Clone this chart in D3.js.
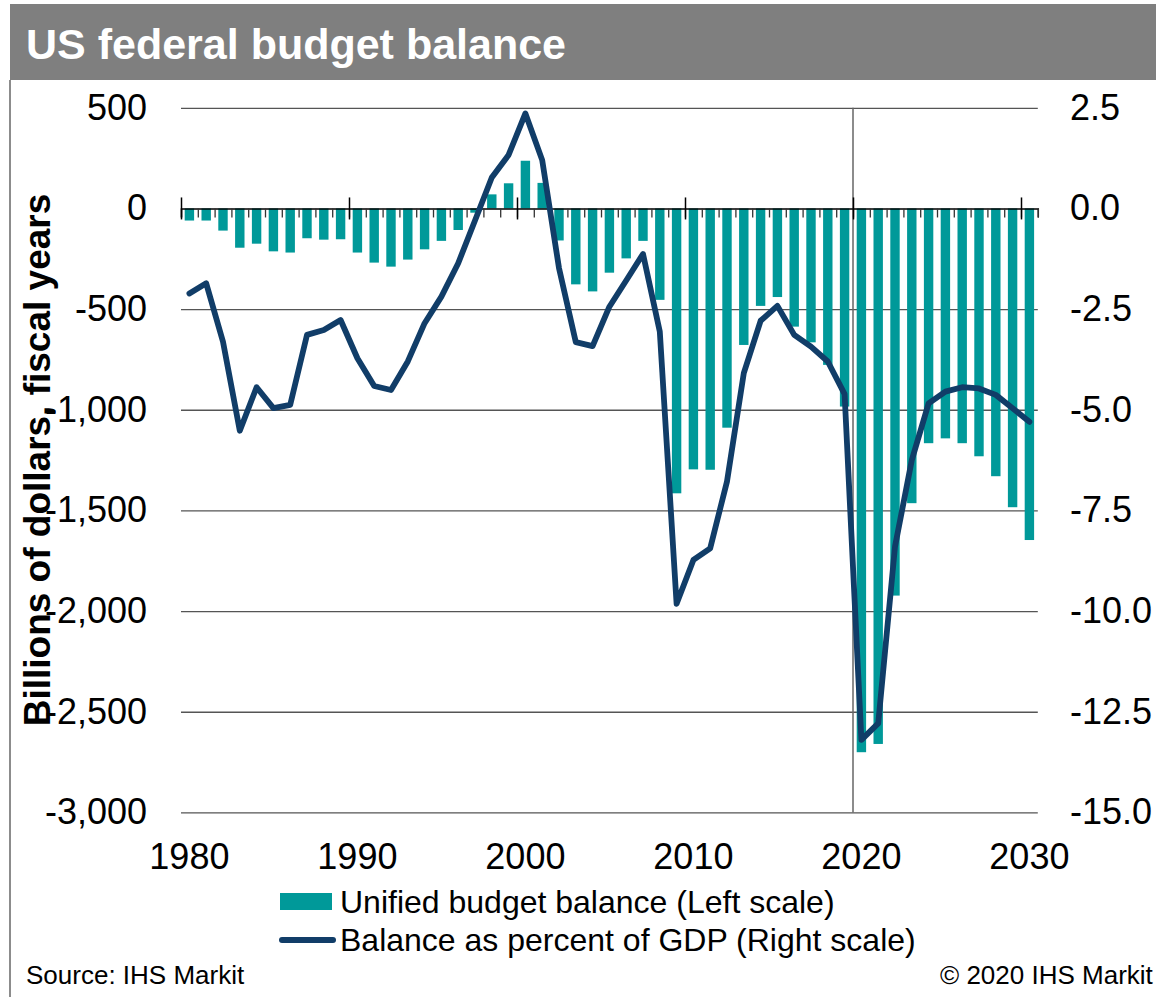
<!DOCTYPE html>
<html>
<head>
<meta charset="utf-8">
<script src="https://cdn.jsdelivr.net/npm/d3@7/dist/d3.min.js"></script>
<style>
  html, body { margin: 0; padding: 0; background: #fff; }
  svg { display: block; font-family: "Liberation Sans", Arial, sans-serif; }
</style>
</head>
<body>
<script>
// Fiscal years 1980-2030
const years = d3.range(1980, 2031);

// Unified budget balance, billions of dollars (left scale)
const budgetBalance = [
  -60, -60, -110, -195, -175, -213, -219, -148, -155, -153,
  -219, -269, -289, -254, -203, -161, -107, -21, 70, 125,
  237, 127, -159, -377, -412, -319, -248, -161, -454, -1415,
  -1296, -1298, -1089, -678, -484, -440, -587, -665, -777, -984,
  -2701, -2660, -1923, -1464, -1166, -1142, -1166, -1231, -1330, -1484,
  -1647
];

// Balance as percent of GDP (right scale)
const pctOfGdp = [
  -2.11, -1.86, -3.31, -5.52, -4.44, -4.96, -4.88, -3.14, -3.02, -2.77,
  -3.72, -4.41, -4.51, -3.80, -2.85, -2.19, -1.36, -0.30, 0.77, 1.33,
  2.36, 1.20, -1.48, -3.32, -3.42, -2.44, -1.79, -1.13, -3.06, -9.82,
  -8.73, -8.44, -6.78, -4.09, -2.79, -2.42, -3.14, -3.43, -3.80, -4.61,
  -13.20, -12.79, -8.40, -6.25, -4.84, -4.55, -4.44, -4.47, -4.63, -4.96,
  -5.30
];

const leftTicks = [500, 0, -500, -1000, -1500, -2000, -2500, -3000];
const rightTicks = [2.5, 0, -2.5, -5, -7.5, -10, -12.5, -15];
const decadeLabels = [1980, 1990, 2000, 2010, 2020, 2030];

const title = "US federal budget balance";
const yTitle = "Billions of dollars, fiscal years";
const legendBars = "Unified budget balance (Left scale)";
const legendLine = "Balance as percent of GDP (Right scale)";
const sourceText = "Source: IHS Markit";
const copyrightText = "\u00A9 2020 IHS Markit";

const W = 1156, H = 997;
const plot = { left: 181, right: 1037.8, top: 107.8, bottom: 812.4 };

const BAR = "#009999";
const LINE = "#113d68";
const GRID = "#555555";

const svg = d3.select("body").append("svg")
  .attr("width", W).attr("height", H);

// Frame: title band and left rule
svg.append("rect").attr("x", 10).attr("y", 4).attr("width", W - 10).attr("height", 76)
  .attr("fill", "#7f7f7f");
svg.append("line").attr("x1", 10).attr("x2", 10).attr("y1", 80).attr("y2", H)
  .attr("stroke", "#8c8c8c").attr("stroke-width", 2);
svg.append("text").attr("x", 26).attr("y", 59)
  .attr("fill", "#fff").attr("font-weight", "bold").attr("font-size", 43)
  .text(title);

// Scales
const x = d3.scaleBand().domain(years).range([plot.left, plot.right]).paddingInner(0).paddingOuter(0);
const xEdge = d3.scaleLinear().domain([1980, 2031]).range([plot.left, plot.right]);
const yL = d3.scaleLinear().domain([-3000, 500]).range([plot.bottom, plot.top]);
const yR = d3.scaleLinear().domain([-15, 2.5]).range([plot.bottom, plot.top]);

// Horizontal gridlines
const grid = svg.append("g")
  .attr("transform", `translate(${plot.left},0)`)
  .call(d3.axisLeft(yL).tickValues(leftTicks.filter(v => v !== 0))
    .tickSize(-(plot.right - plot.left)).tickFormat(""));
grid.select(".domain").remove();
grid.selectAll("line").attr("stroke", GRID).attr("stroke-width", 1.3);

// Left axis labels
const fmtL = d3.format(",");
const leftAxis = svg.append("g")
  .attr("transform", `translate(147,0)`)
  .call(d3.axisLeft(yL).tickValues(leftTicks).tickSize(0).tickPadding(0)
    .tickFormat(d => fmtL(d).replace("\u2212", "-")));
leftAxis.select(".domain").remove();
leftAxis.selectAll("text").attr("font-size", 36).attr("fill", "#000")
  .attr("font-family", "Liberation Sans, Arial, sans-serif");

// Right axis labels
const fmtR = d3.format(".1f");
const rightAxis = svg.append("g")
  .attr("transform", `translate(1070,0)`)
  .call(d3.axisRight(yR).tickValues(rightTicks).tickSize(0).tickPadding(0)
    .tickFormat(d => fmtR(d).replace("\u2212", "-")));
rightAxis.select(".domain").remove();
rightAxis.selectAll("text").attr("font-size", 36).attr("fill", "#000")
  .attr("font-family", "Liberation Sans, Arial, sans-serif");

// Bars
const bw = x.bandwidth() * 0.56;
svg.append("g").selectAll("rect").data(years).join("rect")
  .attr("x", (d) => x(d) + (x.bandwidth() - bw) / 2)
  .attr("width", bw)
  .attr("y", (d, i) => yL(Math.max(0, budgetBalance[i])))
  .attr("height", (d, i) => Math.abs(yL(budgetBalance[i]) - yL(0)))
  .attr("fill", BAR);

// 2020 divider
svg.append("line")
  .attr("x1", xEdge(2020)).attr("x2", xEdge(2020))
  .attr("y1", plot.top).attr("y2", plot.bottom)
  .attr("stroke", "#666").attr("stroke-width", 1.5);

// X axis at zero: minor ticks at every year boundary, major ticks at decades
const y0 = yL(0);
const minor = svg.append("g").attr("transform", `translate(0,${y0})`)
  .call(d3.axisBottom(xEdge).tickValues(d3.range(1980, 2032)).tickSize(9).tickFormat(""));
minor.select(".domain").attr("stroke", "#000").attr("stroke-width", 1.5);
minor.selectAll(".tick line").attr("stroke", "#333").attr("stroke-width", 1.3);

const major = svg.append("g").attr("transform", `translate(0,${y0 - 11})`)
  .call(d3.axisBottom(xEdge).tickValues(decadeLabels).tickSize(22).tickFormat(""));
major.select(".domain").remove();
major.selectAll(".tick line").attr("stroke", "#000").attr("stroke-width", 1.5);

// Decade labels, centred on their year
const xLabels = svg.append("g").attr("transform", `translate(0,${plot.bottom + 31})`)
  .call(d3.axisBottom(x).tickValues(decadeLabels).tickSize(0).tickPadding(0));
xLabels.select(".domain").remove();
xLabels.selectAll("text").attr("font-size", 36).attr("fill", "#000")
  .attr("font-family", "Liberation Sans, Arial, sans-serif");

// Percent-of-GDP line
const line = d3.line()
  .x((d, i) => x(years[i]) + x.bandwidth() / 2)
  .y(d => yR(d));
svg.append("path").datum(pctOfGdp)
  .attr("d", line)
  .attr("fill", "none")
  .attr("stroke", LINE)
  .attr("stroke-width", 5.8)
  .attr("stroke-linejoin", "round")
  .attr("stroke-linecap", "round");

// Left axis title
svg.append("text")
  .attr("transform", `translate(50,460) rotate(-90)`)
  .attr("text-anchor", "middle")
  .attr("font-weight", "bold").attr("font-size", 37).attr("fill", "#000")
  .text(yTitle);

// Legend
const lg = svg.append("g");
lg.append("rect").attr("x", 280).attr("y", 893).attr("width", 52).attr("height", 17).attr("fill", BAR);
lg.append("text").attr("x", 340).attr("y", 913).attr("font-size", 32).text(legendBars);
lg.append("line").attr("x1", 282).attr("x2", 333).attr("y1", 940).attr("y2", 940)
  .attr("stroke", LINE).attr("stroke-width", 6).attr("stroke-linecap", "round");
lg.append("text").attr("x", 340).attr("y", 951).attr("font-size", 32).text(legendLine);

// Footer
svg.append("text").attr("x", 26).attr("y", 984).attr("font-size", 26).text(sourceText);
svg.append("text").attr("x", 940).attr("y", 984).attr("font-size", 26).text(copyrightText);
</script>
</body>
</html>
